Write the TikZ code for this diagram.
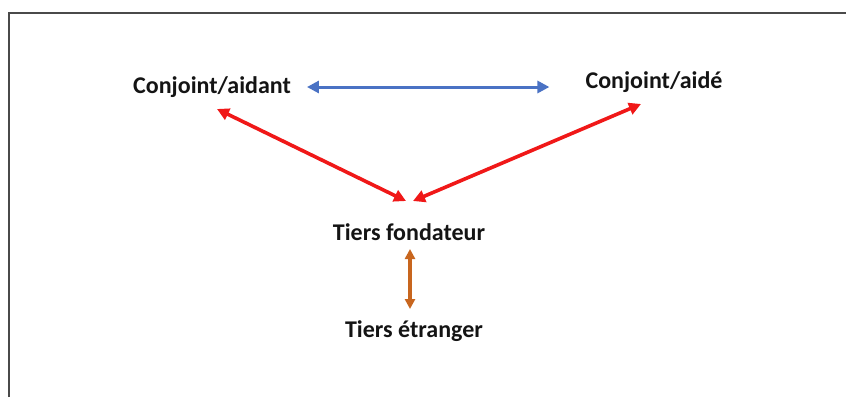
\documentclass[tikz,border=0pt]{standalone}
\usepackage{fontspec}
\setmainfont{Carlito}
\usetikzlibrary{arrows.meta}
\definecolor{redarrow}{HTML}{F01818}
\definecolor{bluearrow}{HTML}{4A72C4}
\definecolor{orangearrow}{HTML}{C8661E}
\definecolor{framegray}{HTML}{4A4A4A}
\begin{document}
\begin{tikzpicture}[x=1pt,y=-1pt,
  lbl/.style={font=\bfseries\fontsize{24}{28}\selectfont, text=black!92, inner sep=2pt},
  dblarrow/.style={line width=3.6pt, {Triangle[length=12pt,width=12pt]}-{Triangle[length=12pt,width=12pt]}},
]
\useasboundingbox (0,0) rectangle (846,397);
\fill[white] (0,0) rectangle (846,397);
\draw[framegray, line width=2pt] (9,397) -- (9,13) -- (846,13);

\node[lbl] (aidant) at (212,87) {Conjoint/aidant};
\node[lbl] (aide) at (654,82) {Conjoint/aidé};
\node[lbl] (fond) at (409,232) {Tiers fondateur};
\node[lbl] (etr) at (414,331) {Tiers étranger};

\coordinate (redL) at (217,109);
\coordinate (redR) at (641,104);
\coordinate (redB1) at (406,201);
\coordinate (redB2) at (413,201);
\coordinate (orT) at (410,249);
\coordinate (orB) at (410,309);

\draw[dblarrow, bluearrow, line width=3pt] ([xshift=14pt]aidant.east) -- ([xshift=-34pt]aide.west |- aidant.east);
\draw[dblarrow, redarrow] (redL) -- (redB1);
\draw[dblarrow, redarrow] (redB2) -- (redR);
\draw[dblarrow, orangearrow, line width=3.8pt, {Triangle[length=10pt,width=10pt]}-{Triangle[length=10pt,width=10pt]}] (orT) -- (orB);
\end{tikzpicture}
\end{document}
